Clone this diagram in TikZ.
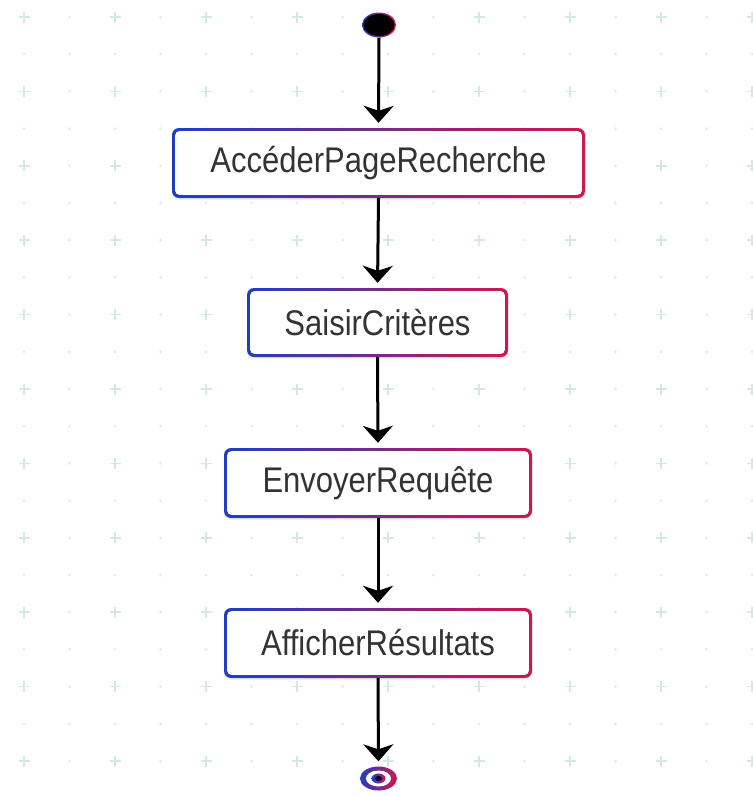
\documentclass[tikz,border=0pt]{standalone}
\usepackage{fontspec}
\setmainfont{Liberation Sans}
\usetikzlibrary{arrows.meta,shapes.geometric,shadows}
\definecolor{gblue}{HTML}{1F3FBF}
\definecolor{gred}{HTML}{D0174F}
\definecolor{txt}{HTML}{333333}
\definecolor{plusc}{HTML}{D3E8E8}
\definecolor{dotc}{HTML}{E4E8E8}
\tikzset{
  actbox/.style={rounded corners=7pt, inner sep=0pt,
    font=\fontsize{31}{31}\selectfont, text=txt,
    drop shadow={opacity=0.12, shadow xshift=0pt, shadow yshift=-2pt},
    path picture={
      \shade[left color=gblue, right color=gred]
        (path picture bounding box.south west) rectangle (path picture bounding box.north east);
      \fill[white, rounded corners=4pt]
        ([shift={(3.2pt,3.2pt)}]path picture bounding box.south west) rectangle
        ([shift={(-3.2pt,-3.2pt)}]path picture bounding box.north east);
    }},
  startnode/.style={ellipse, inner sep=0pt, minimum width=34pt, minimum height=25pt,
    path picture={
      \shade[left color=gblue, right color=gred]
        (path picture bounding box.south west) rectangle (path picture bounding box.north east);
      \fill[black] (path picture bounding box.center) ellipse [x radius=15.5pt, y radius=11pt];
    }},
  endnode/.style={ellipse, inner sep=0pt, minimum width=37pt, minimum height=24pt,
    path picture={
      \shade[left color=gblue, right color=gred]
        (path picture bounding box.south west) rectangle (path picture bounding box.north east);
      \fill[white] (path picture bounding box.center) ellipse [x radius=12.5pt, y radius=8pt];
      \shade[left color=gblue, right color=gred] (path picture bounding box.center) ellipse [x radius=7pt, y radius=5pt];
      \fill[black!80!blue] (path picture bounding box.center) ellipse [x radius=3.5pt, y radius=2.5pt];
    }},
  flow/.style={line width=3pt, shorten >=5pt, -{Stealth[length=17pt,width=30pt,inset=5pt]}},
  plusmark/.style={draw=plusc, line width=1.5pt},
  dotmark/.style={fill=dotc},
}
\newcommand{\vtext}[1]{\scalebox{1}[1.15]{#1}}
\begin{document}
\begin{tikzpicture}[x=1pt,y=-1pt]
  \fill[white] (0,0) rectangle (753,796);
  \useasboundingbox (0,0) rectangle (753,796);
  % background grid
  \foreach \i in {0,...,16} {
    \foreach \j in {0,...,21} {
      \pgfmathsetmacro{\gx}{24+45.5*\i}
      \pgfmathsetmacro{\gy}{17+37.2*\j}
      \pgfmathtruncatemacro{\gpar}{mod(\i,2)+mod(\j,2)}
      \ifnum\gpar=0
        \draw[plusmark] (\gx-5.5,\gy) -- (\gx+5.5,\gy) (\gx,\gy-5.5) -- (\gx,\gy+5.5);
      \else
        \fill[dotmark] (\gx,\gy) circle (1.5);
      \fi
    }
  }
  % nodes
  \node[startnode] (start) at (379,25) {};
  \node[actbox, minimum width=413pt, minimum height=70pt] (a1) at (378.5,163) {\vtext{AccéderPageRecherche}};
  \node[actbox, minimum width=261pt, minimum height=69pt] (a2) at (377.5,322.5) {\vtext{SaisirCritères}};
  \node[actbox, minimum width=308pt, minimum height=70pt] (a3) at (378,483) {\vtext{EnvoyerRequête}};
  \node[actbox, minimum width=308pt, minimum height=70pt] (a4) at (378,643) {\vtext{AfficherRésultats}};
  \node[endnode] (end) at (378.5,778.5) {};
  % connectors
  \draw[flow] (start.south) -- (a1.north);
  \draw[flow] (a1.south) -- (a2.north);
  \draw[flow] (a2.south) -- (a3.north);
  \draw[flow] (a3.south) -- (a4.north);
  \draw[flow] (a4.south) -- (end.north);
\end{tikzpicture}
\end{document}
